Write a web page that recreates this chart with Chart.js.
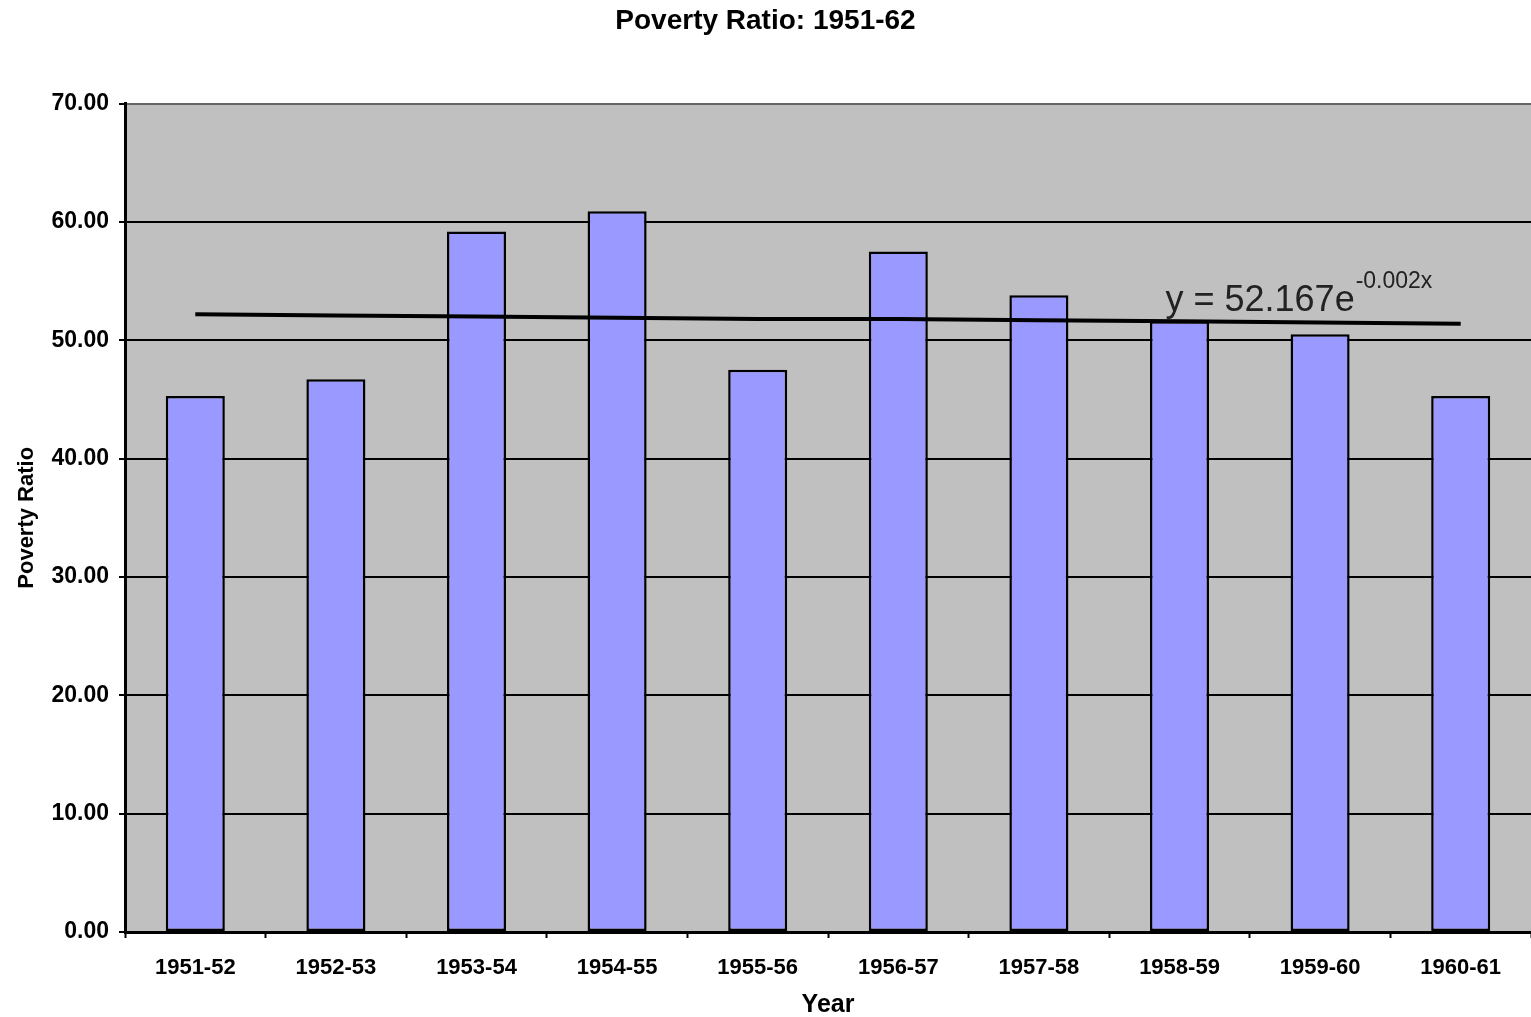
<!DOCTYPE html>
<html lang="en">
<head>
  <meta charset="UTF-8">
  <title>Poverty Ratio: 1951-62</title>
  <script src="https://cdn.jsdelivr.net/npm/chart.js"></script>
  <style>
    body {
      margin: 0;
      background-color: #fff;
    }
    .chart-container {
      position: relative;
      width: 1531px;
      height: 1017px;
    }
  </style>
</head>
<body>
  <div class="chart-container">
    <canvas id="povertyChart"></canvas>
  </div>

  <script>
    // data
    const years = ['1951-52', '1952-53', '1953-54', '1954-55', '1955-56',
                   '1956-57', '1957-58', '1958-59', '1959-60', '1960-61'];
    const povertyRatio = [45.3, 46.7, 59.2, 60.9, 47.5, 57.5, 53.8, 51.6, 50.5, 45.3];
    const trendValues = [52.2, 52.1, 52.0, 51.9, 51.8, 51.8, 51.7, 51.6, 51.5, 51.4];
    const trendMain = 'y = 52.167e';
    const trendExp = '-0.002x';

    const fontFamily = '"Liberation Sans", Arial, sans-serif';

    // gray plot area, like the old spreadsheet chart
    const plotBackground = {
      id: 'plotBackground',
      beforeDraw(chart) {
        const { ctx, chartArea } = chart;
        ctx.save();
        ctx.fillStyle = '#c0c0c0';
        ctx.fillRect(chartArea.left, chartArea.top, chartArea.right - chartArea.left, chartArea.bottom - chartArea.top);
        ctx.restore();
      }
    };

    // trendline equation with superscript exponent
    const trendLabel = {
      id: 'trendLabel',
      afterDatasetsDraw(chart) {
        const { ctx, scales } = chart;
        const x = scales.x.getPixelForValue(7) - 14;
        const y = scales.y.getPixelForValue(trendValues[7]) - 10;
        ctx.save();
        ctx.fillStyle = '#222';
        ctx.textBaseline = 'alphabetic';
        ctx.font = '36px ' + fontFamily;
        ctx.fillText(trendMain, x, y);
        const w = ctx.measureText(trendMain).width;
        ctx.font = '23px ' + fontFamily;
        ctx.fillText(trendExp, x + w + 1, y - 23);
        ctx.restore();
      }
    };

    const ctx = document.getElementById('povertyChart').getContext('2d');
    new Chart(ctx, {
      type: 'bar',
      data: {
        labels: years,
        datasets: [
          {
            label: 'Poverty Ratio',
            data: povertyRatio,
            backgroundColor: '#9999ff',
            borderColor: '#000',
            borderWidth: 2.5,
            borderSkipped: false,
            categoryPercentage: 1,
            barPercentage: 0.42,
            order: 2
          },
          {
            label: 'Trend',
            type: 'line',
            data: trendValues,
            borderColor: '#000',
            borderWidth: 4,
            pointRadius: 0,
            fill: false,
            tension: 0,
            order: 1
          }
        ]
      },
      options: {
        responsive: true,
        maintainAspectRatio: false,
        animation: false,
        layout: {
          padding: { left: 0, right: 0, top: 0, bottom: 0 }
        },
        plugins: {
          legend: { display: false },
          tooltip: { enabled: false },
          title: {
            display: true,
            text: 'Poverty Ratio: 1951-62',
            color: '#000',
            font: { family: fontFamily, size: 28, weight: 'bold' },
            padding: { top: 4, bottom: 66 }
          }
        },
        scales: {
          x: {
            offset: true,
            grid: {
              offset: true,
              drawOnChartArea: false,
              color: '#000',
              tickLength: 6,
              tickWidth: 2
            },
            border: { color: '#000', width: 3 },
            ticks: {
              color: '#000',
              font: { family: fontFamily, size: 22, weight: 'bold' },
              padding: 17,
              maxRotation: 0,
              autoSkip: false
            },
            title: {
              display: true,
              text: 'Year',
              color: '#000',
              font: { family: fontFamily, size: 25, weight: 'bold' },
              padding: { top: 4, bottom: -3 }
            },
            afterFit(scale) { scale.height = 85; }
          },
          y: {
            min: 0,
            max: 70,
            ticks: {
              stepSize: 10,
              color: '#000',
              font: { family: fontFamily, size: 23, weight: 'bold' },
              padding: 10,
              callback: v => v.toFixed(2)
            },
            grid: {
              color: ctx => ctx.tick && ctx.tick.value === 70 ? '#666' : '#000',
              lineWidth: 2,
              tickLength: 6,
              tickColor: '#000'
            },
            border: { color: '#000', width: 3 },
            title: {
              display: true,
              text: 'Poverty Ratio',
              color: '#000',
              font: { family: fontFamily, size: 22, weight: 'bold' },
              padding: { top: 14, bottom: 0 }
            },
            afterFit(scale) { scale.width = 125; }
          }
        }
      },
      plugins: [plotBackground, trendLabel]
    });
  </script>
</body>
</html>
